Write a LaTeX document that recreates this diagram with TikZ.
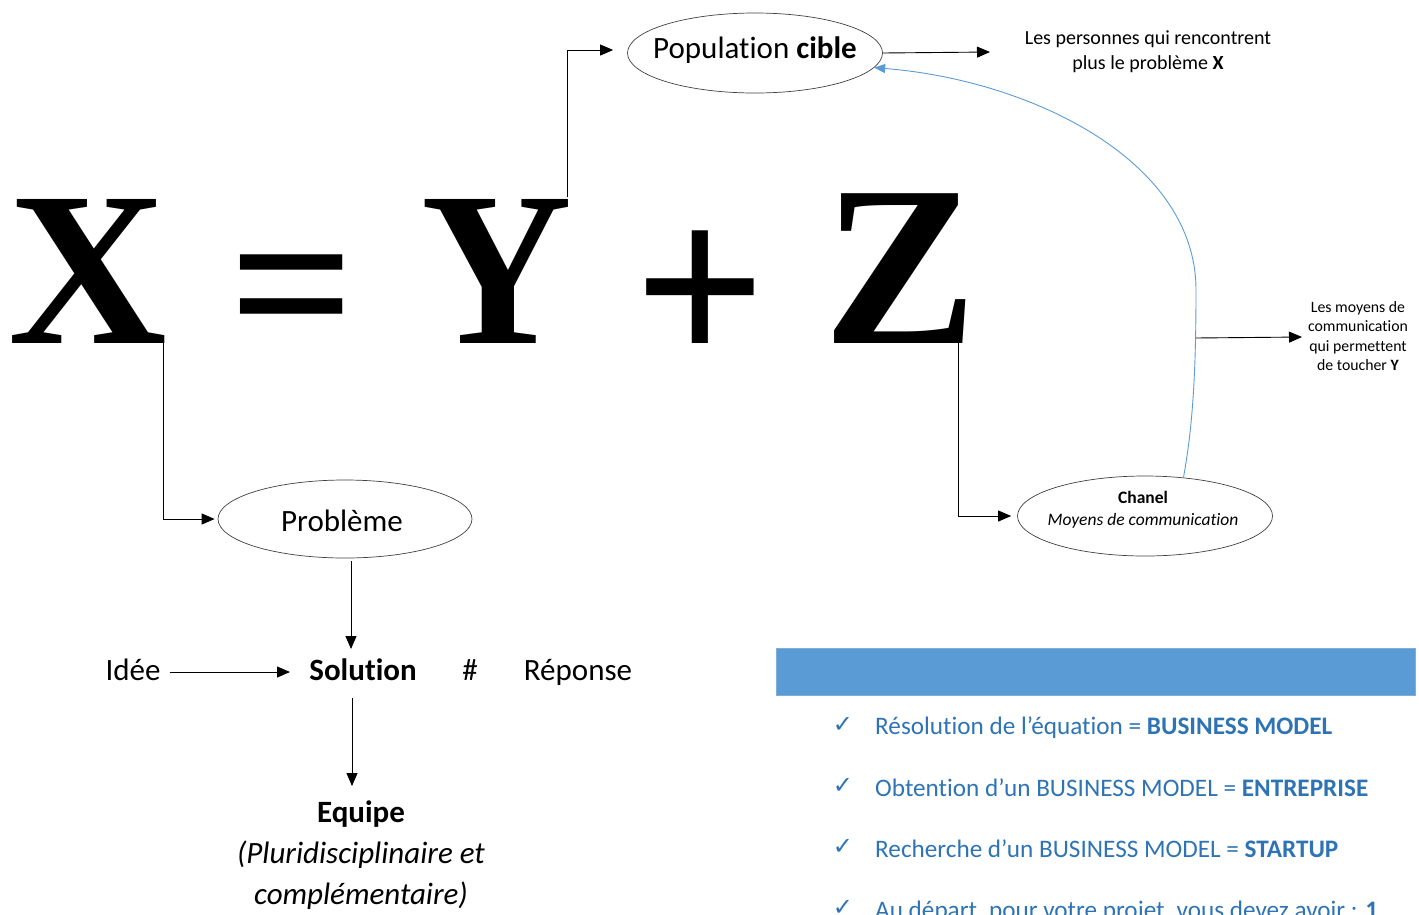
\documentclass[tikz,border=0pt]{standalone}
\usepackage{fontspec}
\setmainfont[Ligatures=NoCommon]{Carlito}
\newfontfamily\tnr{Liberation Serif}
\newfontfamily\dv{DejaVu Sans}
\usetikzlibrary{shapes.geometric,arrows.meta}
\definecolor{bandblue}{HTML}{5B9BD5}
\definecolor{txtblue}{HTML}{2E74B5}
\definecolor{curveblue}{HTML}{5B9BD5}
\begin{document}
\begin{tikzpicture}[x=1pt,y=-1pt,
  big/.style={font=\tnr\bfseries\fontsize{220}{220}\selectfont, inner sep=0, anchor=base},
  oval/.style={ellipse, draw=black!75, line width=0.7pt, inner sep=0},
  conn/.style={line width=0.9pt, -{Triangle[length=13pt,width=11pt]}},
  lbl/.style={inner sep=0, anchor=base, font=\fontsize{31}{37}\selectfont},
  small/.style={inner sep=0, anchor=base, font=\fontsize{20}{25}\selectfont},
  tiny/.style={inner sep=0, anchor=base, font=\fontsize{15.8}{19.5}\selectfont},
  chanel/.style={inner sep=0, anchor=base, font=\fontsize{17.5}{21}\selectfont},
  item/.style={inner sep=0, anchor=base west, text=txtblue, font=\fontsize{25.2}{28}\selectfont},
  tick/.style={inner sep=0, anchor=base, text=txtblue, font=\dv\fontsize{24}{26}\selectfont}
]
\useasboundingbox (0,0) rectangle (1419,914);

% big equation
\node[big] (X) at (88,343) {X};
\node[big] (eq) at (292,357) {=};
\node[big, xscale=0.95] (Y) at (497,343) {Y};
\node[big, xscale=1.05, yscale=1.1] (plus) at (700,367) {+};
\node[big, yscale=1.04, xscale=1.05] (Z) at (901,343) {Z};

% ellipses
\node[oval, minimum width=255pt, minimum height=80pt] (pop) at (755,53) {};
\node[lbl] (poptxt) at (755,58) {Population \textbf{cible}};
\node[oval, minimum width=254pt, minimum height=78pt] (prob) at (345,519) {};
\node[lbl] (probtxt) at (342,531) {Problème};
\node[oval, minimum width=255pt, minimum height=80pt] (chan) at (1145,516) {};
\node[chanel] (chan1) at (1143,503) {\textbf{Chanel}};
\node[chanel] (chan2) at (1143,525) {\textit{Moyens de communication}};

% right texts
\node[small] (pers1) at (1148,44) {Les personnes qui rencontrent};
\node[small] (pers2) at (1148,69) {plus le problème \textbf{X}};
\node[tiny] (moy1) at (1358,312) {Les moyens de};
\node[tiny] (moy2) at (1358,331) {communication};
\node[tiny] (moy3) at (1358,351) {qui permettent};
\node[tiny] (moy4) at (1358,370) {de toucher \textbf{Y}};

% lower left
\node[lbl] (idee) at (133,680) {Idée};
\node[lbl] (sol) at (363,680) {\textbf{Solution}};
\node[lbl] (hash) at (470,680) {\#};
\node[lbl] (rep) at (578,680) {Réponse};
\node[lbl] (equ) at (361,822) {\textbf{Equipe}};
\node[lbl] (equ2) at (361,863) {\textit{(Pluridisciplinaire et}};
\node[lbl] (equ3) at (361,904) {\textit{complémentaire)}};

% connector points
\coordinate (xfoot) at (163,343);
\coordinate (ytop) at (567,197);
\coordinate (zfoot) at (958,343);
\coordinate (popend) at (990,52);
\coordinate (cmid) at (1196,290);
\coordinate (cbr) at (1195,338);
\coordinate (moyend) at (1302,337);
\coordinate (pa) at (351,561);
\coordinate (pb) at (351,649);
\coordinate (sa) at (352,698);
\coordinate (sb) at (352,786);
\coordinate (ia) at (170,672);
\coordinate (ib) at (290,672);

\draw[conn] (xfoot) |- ([xshift=-3pt]prob.west);
\draw[conn] (ytop) |- ([xshift=-14pt,yshift=3pt]pop.west);
\draw[conn] (zfoot) |- ([xshift=-6pt]chan.west);
\draw[conn] (pop.east) -- (popend);
\draw[conn] (cbr) -- (moyend);
\draw[conn] (pa) -- (pb);
\draw[conn] (sa) -- (sb);
\draw[conn] (ia) -- (ib);

\draw[curveblue, line width=0.9pt, -{Triangle[length=11pt,width=9pt]}]
  (chan.45) .. controls (1192,430) and (1196,380) .. (cmid)
  .. controls (1196,160) and (1030,80) .. (pop.-7);

% blue band and checklist
\node[fill=bandblue, draw=bandblue!80!white, line width=0.6pt, inner sep=0,
      minimum width=639pt, minimum height=47pt] (band) at (1095.5,671.5) {};
\begin{scope}
\clip (0,0) rectangle (1419,914);
\node[tick] (t1) at (843,732) {✓};
\node[item] (i1) at (875,734) {Résolution de l’équation = \textbf{BUSINESS MODEL}};
\node[tick] (t2) at (843,793) {✓};
\node[item] (i2) at (875,796) {Obtention d’un BUSINESS MODEL = \textbf{ENTREPRISE}};
\node[tick] (t3) at (843,854) {✓};
\node[item] (i3) at (875,857) {Recherche d’un BUSINESS MODEL = \textbf{STARTUP}};
\node[tick] (t4) at (843,915) {✓};
\node[item] (i4) at (875,918) {Au départ, pour votre projet, vous devez avoir : \textbf{1}};
\end{scope}
\end{tikzpicture}
\end{document}
